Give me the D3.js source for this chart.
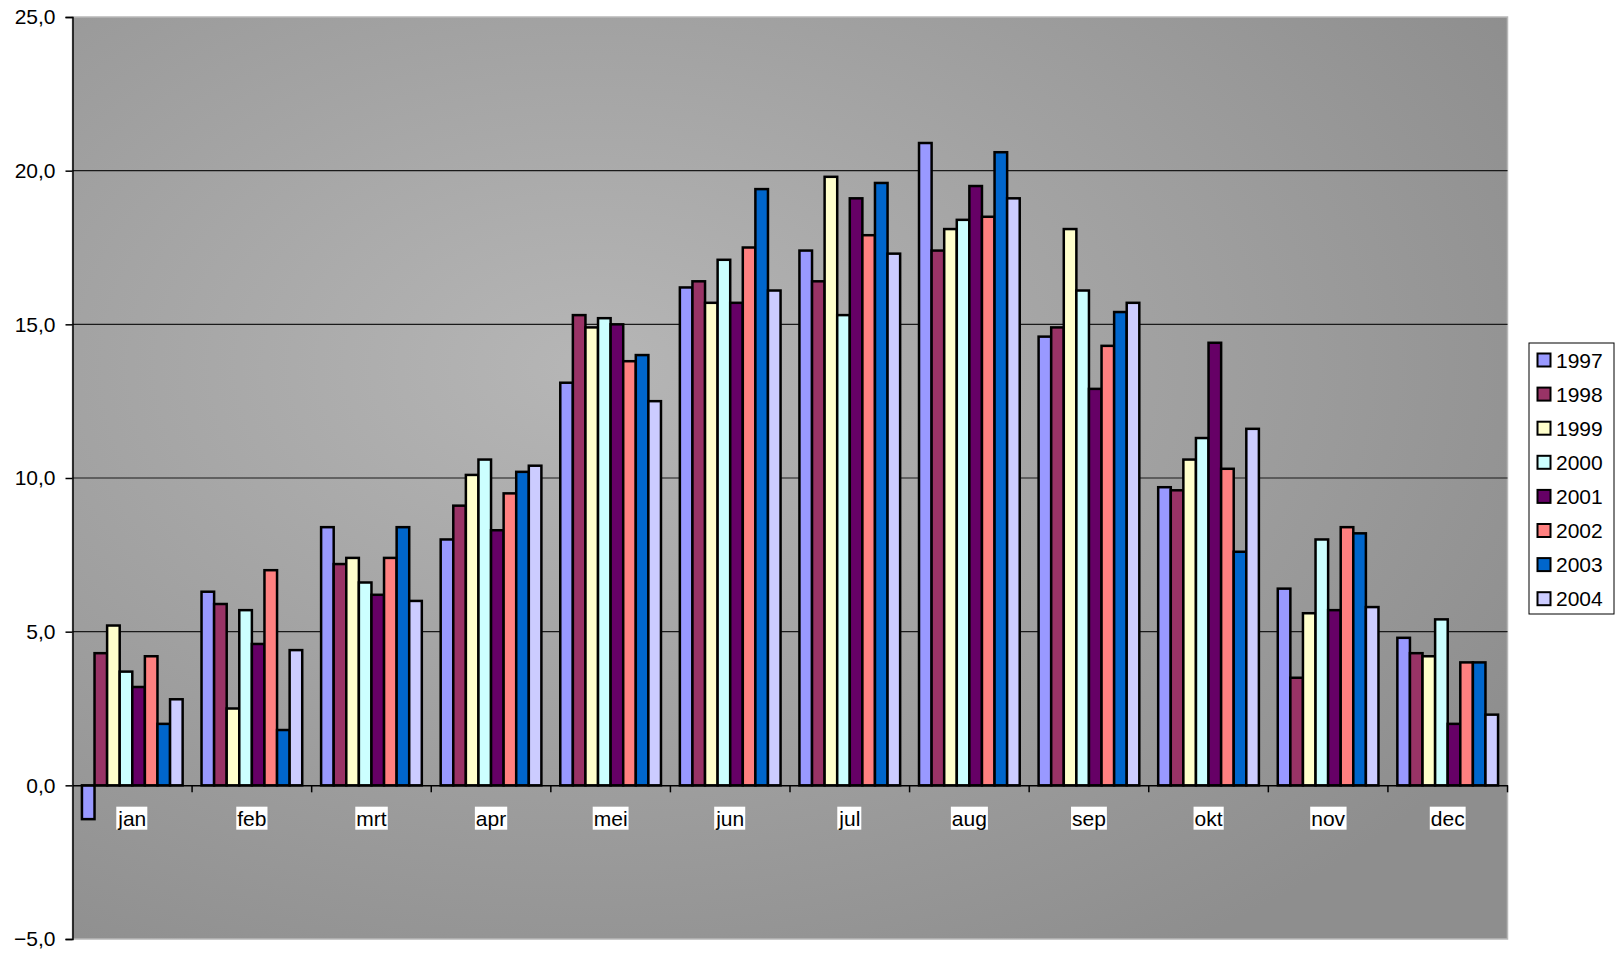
<!DOCTYPE html>
<html>
<head>
<meta charset="utf-8">
<script src="https://cdn.jsdelivr.net/npm/d3@7"></script>
<style>
  html, body { margin: 0; padding: 0; background: #fff; }
  svg { display: block; font-family: "Liberation Sans", Arial, sans-serif; }
</style>
</head>
<body>
<svg id="chart" width="1615" height="953"></svg>
<script>
// Monthly mean temperature per year (°C)
const months = ["jan", "feb", "mrt", "apr", "mei", "jun", "jul", "aug", "sep", "okt", "nov", "dec"];
const years = ["1997", "1998", "1999", "2000", "2001", "2002", "2003", "2004"];

const t1997 = [-1.1, 6.3, 8.4, 8.0, 13.1, 16.2, 17.4, 20.9, 14.6, 9.7, 6.4, 4.8];
const t1998 = [4.3, 5.9, 7.2, 9.1, 15.3, 16.4, 16.4, 17.4, 14.9, 9.6, 3.5, 4.3];
const t1999 = [5.2, 2.5, 7.4, 10.1, 14.9, 15.7, 19.8, 18.1, 18.1, 10.6, 5.6, 4.2];
const t2000 = [3.7, 5.7, 6.6, 10.6, 15.2, 17.1, 15.3, 18.4, 16.1, 11.3, 8.0, 5.4];
const t2001 = [3.2, 4.6, 6.2, 8.3, 15.0, 15.7, 19.1, 19.5, 12.9, 14.4, 5.7, 2.0];
const t2002 = [4.2, 7.0, 7.4, 9.5, 13.8, 17.5, 17.9, 18.5, 14.3, 10.3, 8.4, 4.0];
const t2003 = [2.0, 1.8, 8.4, 10.2, 14.0, 19.4, 19.6, 20.6, 15.4, 7.6, 8.2, 4.0];
const t2004 = [2.8, 4.4, 6.0, 10.4, 12.5, 16.1, 17.3, 19.1, 15.7, 11.6, 5.8, 2.3];

const yTicks = [-5, 0, 5, 10, 15, 20, 25];

const seriesValues = [t1997, t1998, t1999, t2000, t2001, t2002, t2003, t2004];
const colors = ["#9999FF", "#993366", "#FFFFCC", "#CCFFFF", "#660066", "#FF8080", "#0066CC", "#CCCCFF"];

const svg = d3.select("#chart");
const plot = { left: 72.5, top: 17, right: 1507.5, bottom: 939 };
const fontSize = 21;

const nl = d3.formatLocale({ decimal: ",", thousands: ".", grouping: [3], currency: ["€", ""] });
const fmt = nl.format(".1f");

const y = d3.scaleLinear().domain([-5, 25]).range([plot.bottom, plot.top]);
const x0 = d3.scaleBand().domain(months).range([plot.left, plot.right]).padding(0);
const bw = x0.bandwidth();
const gap = bw * 1.5 / 9.5;
const x1 = d3.scaleBand().domain(years).range([gap / 2, bw - gap / 2]).padding(0);

// Plot area background gradient
const defs = svg.append("defs");
const grad = defs.append("radialGradient")
  .attr("id", "bg")
  .attr("cx", "0.36").attr("cy", "0.38")
  .attr("r", "0.75");
grad.append("stop").attr("offset", "0").attr("stop-color", "#b6b6b6");
grad.append("stop").attr("offset", "1").attr("stop-color", "#8e8e8e");

svg.append("rect")
  .attr("x", plot.left).attr("y", plot.top)
  .attr("width", plot.right - plot.left).attr("height", plot.bottom - plot.top)
  .attr("fill", "url(#bg)")
  .attr("stroke", "#b8b8b8").attr("stroke-width", 1.5);

// Gridlines
svg.append("g")
  .selectAll("line")
  .data(yTicks.filter(d => d !== 0 && d !== -5 && d !== 25))
  .join("line")
  .attr("x1", plot.left).attr("x2", plot.right)
  .attr("y1", d => y(d)).attr("y2", d => y(d))
  .attr("stroke", "#1a1a1a").attr("stroke-width", 1.2);

// Bars
const groups = svg.append("g")
  .selectAll("g")
  .data(months)
  .join("g")
  .attr("transform", d => `translate(${x0(d)},0)`);

groups.selectAll("rect")
  .data((m, i) => years.map((yr, s) => ({ yr, s, v: seriesValues[s][i] })))
  .join("rect")
  .attr("x", d => x1(d.yr))
  .attr("width", x1.bandwidth())
  .attr("y", d => y(Math.max(0, d.v)))
  .attr("height", d => Math.abs(y(d.v) - y(0)))
  .attr("fill", d => colors[d.s])
  .attr("stroke", "#000")
  .attr("stroke-width", 2.5);

// Y axis
const yAxis = svg.append("g")
  .attr("transform", `translate(${plot.left},0)`)
  .call(d3.axisLeft(y).tickValues(yTicks).tickFormat(fmt).tickSize(7).tickPadding(10));
yAxis.select(".domain").attr("stroke", "#000").attr("stroke-width", 1.5);
yAxis.selectAll(".tick line").attr("stroke", "#000").attr("stroke-width", 1.5);
yAxis.selectAll("text").attr("font-size", fontSize).attr("fill", "#000")
  .attr("font-family", "Liberation Sans, Arial, sans-serif");

// X axis at zero
const xAxis = svg.append("g")
  .attr("transform", `translate(0,${y(0)})`)
  .call(d3.axisBottom(x0).tickSize(0).tickFormat(""));
xAxis.select(".domain").attr("stroke", "#000").attr("stroke-width", 1.5);

// Category boundary ticks
svg.append("g")
  .selectAll("line")
  .data(months.slice(1).concat(["_end"]))
  .join("line")
  .attr("x1", d => d === "_end" ? plot.right : x0(d))
  .attr("x2", d => d === "_end" ? plot.right : x0(d))
  .attr("y1", y(0)).attr("y2", y(0) + 7)
  .attr("stroke", "#000").attr("stroke-width", 1.5);

// Month labels with white boxes
const lab = svg.append("g")
  .selectAll("g")
  .data(months)
  .join("g")
  .attr("transform", d => `translate(${x0(d) + bw / 2},${y(0) + 33})`);
lab.append("text")
  .attr("text-anchor", "middle")
  .attr("dy", "0.35em")
  .attr("font-size", fontSize)
  .text(d => d);
lab.each(function () {
  const g = d3.select(this);
  const b = g.select("text").node().getBBox();
  g.insert("rect", "text")
    .attr("x", b.x - 1).attr("y", b.y)
    .attr("width", b.width + 2).attr("height", b.height)
    .attr("fill", "#fff");
});

// Legend
const legend = svg.append("g").attr("transform", "translate(1529,343)");
legend.append("rect")
  .attr("width", 85).attr("height", 271)
  .attr("fill", "#fff").attr("stroke", "#000").attr("stroke-width", 1);
const li = legend.selectAll("g.item")
  .data(years)
  .join("g")
  .attr("class", "item")
  .attr("transform", (d, i) => `translate(0,${17 + i * 34.1})`);
li.append("rect")
  .attr("x", 8.5).attr("y", -6.5)
  .attr("width", 13).attr("height", 13)
  .attr("fill", (d, i) => colors[i])
  .attr("stroke", "#000").attr("stroke-width", 2);
li.append("text")
  .attr("x", 27).attr("dy", "0.36em")
  .attr("font-size", fontSize)
  .text(d => d);
</script>
</body>
</html>
